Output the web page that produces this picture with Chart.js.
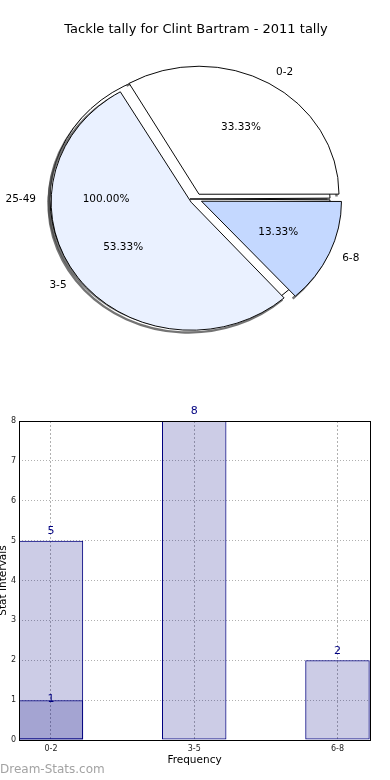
<!DOCTYPE html>
<html>
<head>
<meta charset="utf-8">
<script src="https://cdn.jsdelivr.net/npm/chart.js@4.4.1/dist/chart.umd.min.js"></script>
<style>
  body { margin: 0; background: #fff; }
  #wrap { position: relative; width: 390px; height: 780px; overflow: hidden; }
  canvas { position: absolute; left: 0; }
  #pieBack, #pieFront { top: 0; }
  #barChart { top: 380px; }
</style>
</head>
<body>
<div id="wrap">
  <canvas id="pieBack" width="390" height="360"></canvas>
  <canvas id="pieFront" width="390" height="360"></canvas>
  <canvas id="barChart" width="390" height="400"></canvas>
</div>
<script>
const categories = ["0-2", "3-5", "6-8"];
const tallyValues = [5, 8, 2];
const lowerValues = [1, null, null];
const pieColors = ["#ffffff", "#eaf1ff", "#c4d8ff"];
const extraLabels = ["25-49"];
const extraValues = [1];
const titleText = "Tackle tally for Clint Bartram - 2011 tally";

const fontFamily = "'DejaVu Sans', sans-serif";
const pieRadius = 140;
const squash = 128 / 140;
const pieOffset = 24;  // chart.js moves a slice by offset / 4

// pie is drawn as an ellipse, like the matplotlib original
function drawShadow(chart, mode) {
    const ctx = chart.ctx;
    const arcs = chart.getDatasetMeta(0).data;
    ctx.save();
    ctx.fillStyle = "rgba(70, 70, 70, 0.75)";
    ctx.strokeStyle = "rgba(70, 70, 70, 0.75)";
    arcs.forEach((arc) => {
        const mid = (arc.startAngle + arc.endAngle) / 2;
        const d = arc.options.offset / 4;
        const x = arc.x + Math.cos(mid) * d - 2.5;
        const y = arc.y + Math.sin(mid) * d + 2.5;
        ctx.beginPath();
        if (mode === "fill") {
            ctx.arc(x, y, pieRadius, 0, Math.PI * 2);
            ctx.fill();
        } else {
            ctx.lineWidth = 2.5;
            ctx.arc(x, y, pieRadius, arc.startAngle, arc.endAngle);
            ctx.stroke();
        }
    });
    ctx.restore();
}

const ellipsePlugin = {
    id: "ellipse",
    afterDatasetsUpdate(chart) {
        chart.getDatasetMeta(0).data.forEach((arc) => {
            const fix = 1 - Math.sin(Math.min(Math.PI, arc.circumference));
            arc.outerRadius = pieRadius - (pieOffset / 4) * fix;
        });
    },
    beforeDatasetsDraw(chart, args, opts) {
        const ctx = chart.ctx;
        const cy = chart.getDatasetMeta(0).data[0].y;
        ctx.save();
        ctx.translate(0, cy);
        ctx.scale(1, squash);
        ctx.translate(0, -cy);
        drawShadow(chart, opts.shadow);
    },
    afterDatasetsDraw(chart) {
        chart.ctx.restore();
    }
};

function drawPieLabels(ctx, chart) {
    const values = chart.data.datasets[0].data;
    const total = values.reduce((a, b) => a + b, 0);
    const arcs = chart.getDatasetMeta(0).data;
    ctx.save();
    ctx.font = "10.5px " + fontFamily;
    ctx.fillStyle = "#000";
    ctx.textBaseline = "middle";
    arcs.forEach((arc, i) => {
        const mid = (arc.startAngle + arc.endAngle) / 2;
        const d = arc.options.offset / 4;
        const c = Math.cos(mid);
        const s = Math.sin(mid) * squash;
        const cx = arc.x + c * d;
        const cy = arc.y + s * d;
        ctx.textAlign = c > 0 ? "left" : "right";
        ctx.fillText(chart.data.labels[i], cx + c * 1.1 * pieRadius, cy + s * 1.1 * pieRadius);
        ctx.textAlign = "center";
        ctx.fillText((values[i] / total * 100).toFixed(2) + "%", cx + c * 0.6 * pieRadius, cy + s * 0.6 * pieRadius);
    });
    ctx.restore();
}

function pieOptions(titleColor, shadow) {
    return {
        responsive: false,
        animation: false,
        events: [],
        rotation: 90,
        radius: pieRadius,
        layout: { padding: { left: 2, right: 0, top: 0, bottom: 7.6 } },
        plugins: {
            legend: { display: false },
            tooltip: { enabled: false },
            title: {
                display: true,
                text: titleText,
                color: titleColor,
                font: { family: fontFamily, size: 13, weight: "normal" },
                padding: { top: 22, bottom: 8 }
            },
            ellipse: { shadow }
        }
    };
}

// back layer: the single 25-49 wedge
const pieBack = new Chart(document.getElementById("pieBack"), {
    type: "pie",
    data: {
        labels: extraLabels,
        datasets: [{
            data: extraValues,
            backgroundColor: "#ffffff",
            borderColor: "#000",
            borderWidth: 1,
            offset: pieOffset
        }]
    },
    options: pieOptions("rgba(0,0,0,0)", "fill"),
    plugins: [ellipsePlugin]
});

// front layer: the tally wedges, drawn counter-clockwise from 3 o'clock
const pieFront = new Chart(document.getElementById("pieFront"), {
    type: "pie",
    data: {
        labels: categories.slice().reverse(),
        datasets: [{
            data: tallyValues.slice().reverse(),
            backgroundColor: pieColors.slice().reverse(),
            borderColor: "#000",
            borderWidth: 1,
            offset: pieOffset
        }]
    },
    options: pieOptions("#000", "rim"),
    plugins: [ellipsePlugin, {
        id: "pieLabels",
        afterDraw(chart) {
            drawPieLabels(chart.ctx, pieBack);
            drawPieLabels(chart.ctx, chart);
        }
    }]
});

const barFill = "rgba(0, 0, 128, 0.2)";
const barEdge = "#000080";

const barChart = new Chart(document.getElementById("barChart"), {
    type: "bar",
    data: {
        datasets: [
            {
                data: categories.map((c, i) => ({ x: i, y: tallyValues[i] })),
                backgroundColor: barFill,
                borderColor: barEdge,
                borderWidth: 1,
                borderSkipped: false,
                grouped: false,
                categoryPercentage: 1,
                barPercentage: 0.45,
                labelLift: 9.5
            },
            {
                data: categories.map((c, i) => ({ x: i, y: lowerValues[i] })).filter((p) => p.y !== null),
                backgroundColor: barFill,
                borderColor: barEdge,
                borderWidth: 1,
                borderSkipped: false,
                grouped: false,
                categoryPercentage: 1,
                barPercentage: 0.45,
                labelLift: 1
            }
        ]
    },
    options: {
        responsive: false,
        animation: false,
        events: [],
        layout: { padding: { left: 0, right: 20, top: 41, bottom: 12 } },
        plugins: {
            legend: { display: false },
            tooltip: { enabled: false }
        },
        scales: {
            x: {
                type: "linear",
                min: -0.223,
                max: 2.227,
                offset: false,
                grid: { offset: false, color: "#b0b0b0", drawTicks: false },
                border: { display: false, dash: [2, 2] },
                afterBuildTicks: (scale) => {
                    scale.ticks = categories.map((c, i) => ({ value: i }));
                },
                afterFit: (scale) => { scale.height = 28; },
                ticks: {
                    callback: (v) => categories[Math.round(v)],
                    font: { family: fontFamily, size: 8 },
                    color: "#222",
                    padding: 4,
                    autoSkip: false,
                    maxRotation: 0
                },
                title: {
                    display: true,
                    text: "Frequency",
                    color: "#000",
                    font: { family: fontFamily, size: 10.5 },
                    padding: { top: 0, bottom: 1.4 }
                }
            },
            y: {
                min: 0,
                max: 8,
                grid: { color: "#b0b0b0", drawTicks: false },
                border: { display: false, dash: [1, 2] },
                afterFit: (scale) => { scale.width = 19; },
                ticks: {
                    stepSize: 1,
                    font: { family: fontFamily, size: 8 },
                    color: "#222",
                    padding: 3
                },
                title: {
                    display: true,
                    text: "Stat Intervals",
                    color: "#000",
                    font: { family: fontFamily, size: 10.5 },
                    padding: { top: -3.5, bottom: 0 }
                }
            }
        }
    },
    plugins: [{
        id: "barExtras",
        afterDatasetsDraw(chart) {
            const ctx = chart.ctx;
            const area = chart.chartArea;
            ctx.save();
            ctx.strokeStyle = "#000";
            ctx.lineWidth = 1;
            ctx.strokeRect(area.left + 0.5, area.top + 0.5, area.right - area.left, area.bottom - area.top);

            ctx.font = "11px " + fontFamily;
            ctx.fillStyle = barEdge;
            ctx.textAlign = "center";
            ctx.textBaseline = "middle";
            chart.data.datasets.forEach((ds, di) => {
                chart.getDatasetMeta(di).data.forEach((bar, i) => {
                    ctx.fillText(ds.data[i].y, bar.x, bar.y - ds.labelLift);
                });
            });

            ctx.font = "12px " + fontFamily;
            ctx.fillStyle = "#a3a3a3";
            ctx.textAlign = "left";
            ctx.fillText("Dream-Stats.com", 0, 390);
            ctx.restore();
        }
    }]
});
</script>
</body>
</html>
